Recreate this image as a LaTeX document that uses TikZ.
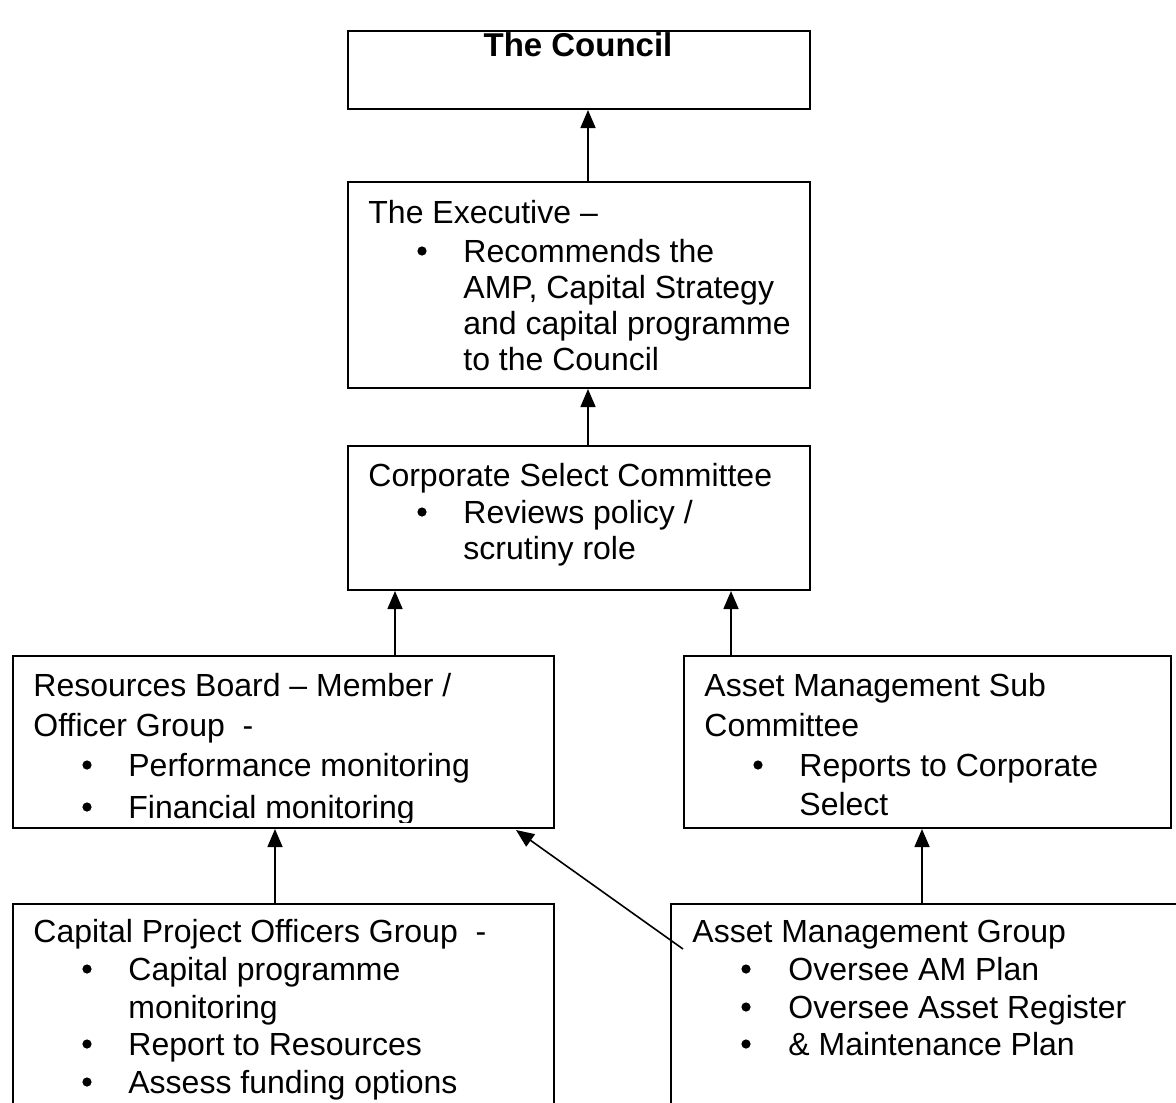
\documentclass[tikz,border=0pt]{standalone}
\usepackage{fontspec}
\setmainfont{Liberation Sans}
\usetikzlibrary{arrows.meta}
\tikzset{
  box/.style={draw=black, line width=1pt, rectangle, inner sep=0pt, anchor=north west},
  txt/.style={inner sep=0pt, anchor=base west, font=\fontsize{16}{19}\selectfont},
  btxt/.style={inner sep=0pt, anchor=base, font=\fontsize{16.5}{19}\selectfont\bfseries},
  bul/.style={circle, fill=black, draw=none, inner sep=0pt, minimum size=4.6pt},
  conn/.style={draw=black, line width=0.8pt, -{Triangle[length=9pt,width=7.5pt]}}
}
\begin{document}
\begin{tikzpicture}[x=0.5pt,y=-0.5pt]
\useasboundingbox (0,0) rectangle (1176,1102);
\clip (0,0) rectangle (1176,1102);
\fill[white] (0,0) rectangle (1176,1102);

% boxes
\node[box, minimum width=231pt, minimum height=39pt] (council) at (347,30) {};
\node[box, minimum width=231pt, minimum height=103pt] (exec) at (347,181) {};
\node[box, minimum width=231pt, minimum height=72pt] (csc) at (347,445) {};
\node[box, minimum width=270.5pt, minimum height=86pt] (rb) at (12,655) {};
\node[box, minimum width=243.5pt, minimum height=86pt] (amsc) at (683,655) {};
\node[box, minimum width=270.5pt, minimum height=130pt] (cpog) at (12,903) {};
\node[box, minimum width=270pt, minimum height=130pt] (amg) at (670,903) {};

% texts
\node[btxt] (t-council) at (578,57) {The Council};

\node[txt] (t-ex1) at (368,223) {The Executive –};
\node[bul] (b-ex1) at (422,251) {};
\node[txt] (t-ex2) at (463,262) {Recommends the};
\node[txt] (t-ex3) at (463,298) {AMP, Capital Strategy};
\node[txt] (t-ex4) at (463,334) {and capital programme};
\node[txt] (t-ex5) at (463,370) {to the Council};

\node[txt] (t-cs1) at (368,486) {Corporate Select Committee};
\node[bul] (b-cs1) at (422,512) {};
\node[txt] (t-cs2) at (463,523) {Reviews policy /};
\node[txt] (t-cs3) at (463,559) {scrutiny role};

\begin{scope}
\clip (12,655) rectangle (553,822);
\node[txt] (t-rb1) at (33,696) {Resources Board – Member /};
\node[txt] (t-rb2) at (33,736) {Officer Group\ \ -};
\node[bul] (b-rb1) at (87,765) {};
\node[txt] (t-rb3) at (128,776) {Performance monitoring};
\node[bul] (b-rb2) at (87,807) {};
\node[txt] (t-rb4) at (128,818) {Financial monitoring};
\end{scope}

\node[txt] (t-am1) at (704,696) {Asset Management Sub};
\node[txt] (t-am2) at (704,736) {Committee};
\node[bul] (b-am1) at (758,765) {};
\node[txt] (t-am3) at (799,776) {Reports to Corporate};
\node[txt] (t-am4) at (799,815) {Select};

\node[txt] (t-cp1) at (33,942) {Capital Project Officers Group\ \ -};
\node[bul] (b-cp1) at (87,969) {};
\node[txt] (t-cp2) at (128,980) {Capital programme};
\node[txt] (t-cp3) at (128,1018) {monitoring};
\node[bul] (b-cp2) at (87,1044) {};
\node[txt] (t-cp4) at (128,1055) {Report to Resources};
\node[bul] (b-cp3) at (87,1082) {};
\node[txt] (t-cp5) at (128,1093) {Assess funding options};

\node[txt] (t-ag1) at (692,942) {Asset Management Group};
\node[bul] (b-ag1) at (746,969) {};
\node[txt] (t-ag2) at (788,980) {Oversee AM Plan};
\node[bul] (b-ag2) at (746,1007) {};
\node[txt] (t-ag3) at (788,1018) {Oversee Asset Register};
\node[bul] (b-ag3) at (746,1044) {};
\node[txt] (t-ag4) at (788,1055) {\& Maintenance Plan};

% connectors
\coordinate (diagstart) at (683,949);
\coordinate (diagend) at (516,830);
\draw[conn] (exec.north -| 588,0) -- (council.south -| 588,0);
\draw[conn] (csc.north -| 588,0) -- (exec.south -| 588,0);
\draw[conn] (rb.north -| 395,0) -- (csc.south -| 395,0);
\draw[conn] (amsc.north -| 731,0) -- (csc.south -| 731,0);
\draw[conn] (cpog.north -| 275,0) -- (rb.south -| 275,0);
\draw[conn] (amg.north -| 922,0) -- (amsc.south -| 922,0);
\draw[conn] (diagstart) -- (diagend);
\end{tikzpicture}
\end{document}
